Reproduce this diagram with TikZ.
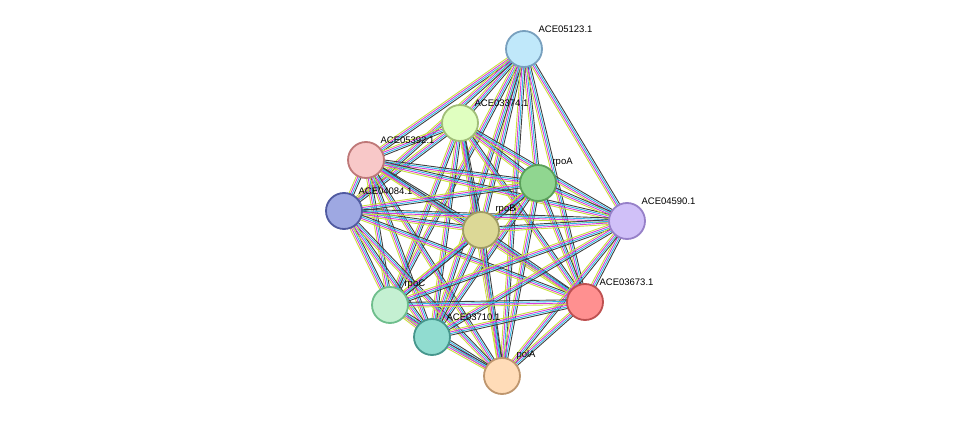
\documentclass[tikz,border=0pt]{standalone}
\usepackage{fontspec}
\setmainfont{Liberation Sans}
\usetikzlibrary{calc, backgrounds}

\definecolor{eYel}{HTML}{C8E03C}
\definecolor{eMag}{HTML}{D83CD8}
\definecolor{eCya}{HTML}{30B8E8}
\definecolor{eBlk}{HTML}{404040}

\begin{document}
\begin{tikzpicture}[
    x=1pt, y=-1pt,
    prot/.style={circle, draw, line width=1.8pt, minimum size=36pt, inner sep=0pt}, % protein node
    lbl/.style={font=\fontsize{9.5}{10}\selectfont, inner sep=1pt, yshift=2pt}, % node label
    edge/.style={line width=0.9pt}
]
\useasboundingbox (0,0) rectangle (975,422);

% proteins
\node (ace05123) [prot, fill={rgb,255:red,192;green,232;blue,250}, draw={rgb,255:red,120;green,160;blue,190}, label={[lbl]north east:ACE05123.1}] at (524,49) {};
\node (ace03374) [prot, fill={rgb,255:red,224;green,255;blue,192}, draw={rgb,255:red,160;green,190;blue,120}, label={[lbl]north east:ACE03374.1}] at (460,123) {};
\node (ace05392) [prot, fill={rgb,255:red,248;green,200;blue,200}, draw={rgb,255:red,190;green,120;blue,120}, label={[lbl]north east:ACE05392.1}] at (366,160) {};
\node (rpoA) [prot, fill={rgb,255:red,144;green,214;blue,144}, draw={rgb,255:red,90;green,160;blue,90}, label={[lbl]north east:rpoA}] at (538,183) {};
\node (ace04084) [prot, fill={rgb,255:red,158;green,168;blue,226}, draw={rgb,255:red,80;green,90;blue,160}, label={[lbl]north east:ACE04084.1}] at (344,211) {};
\node (rpoB) [prot, fill={rgb,255:red,220;green,216;blue,150}, draw={rgb,255:red,160;green,156;blue,100}, label={[lbl]north east:rpoB}] at (481,230) {};
\node (ace04590) [prot, fill={rgb,255:red,208;green,192;blue,248}, draw={rgb,255:red,150;green,128;blue,200}, label={[lbl]north east:ACE04590.1}] at (627,221) {};
\node (rpoC) [prot, fill={rgb,255:red,196;green,240;blue,210}, draw={rgb,255:red,110;green,190;blue,140}, label={[lbl]north east:rpoC}] at (390,305) {};
\node (ace03673) [prot, fill={rgb,255:red,255;green,144;blue,144}, draw={rgb,255:red,190;green,80;blue,80}, label={[lbl]north east:ACE03673.1}] at (585,302) {};
\node (ace03710) [prot, fill={rgb,255:red,144;green,220;blue,208}, draw={rgb,255:red,70;green,150;blue,140}, label={[lbl]north east:ACE03710.1}] at (432,337) {};
\node (polA) [prot, fill={rgb,255:red,255;green,220;blue,184}, draw={rgb,255:red,190;green,150;blue,110}, label={[lbl]north east:polA}] at (502,376) {};

% interactions
\begin{scope}[on background layer]
\foreach \a/\b in {ace05123/ace03374, ace05123/ace05392, ace05123/rpoA, ace05123/ace04084,
    ace05123/rpoB, ace05123/ace04590, ace05123/rpoC, ace05123/ace03673, ace05123/ace03710, ace05123/polA,
    ace03374/ace05392, ace03374/rpoA, ace03374/ace04084, ace03374/rpoB, ace03374/ace04590,
    ace03374/rpoC, ace03374/ace03673, ace03374/ace03710, ace03374/polA,
    ace05392/rpoA, ace05392/ace04084, ace05392/rpoB, ace05392/ace04590, ace05392/rpoC,
    ace05392/ace03673, ace05392/ace03710, ace05392/polA,
    rpoA/ace04084, rpoA/rpoB, rpoA/ace04590, rpoA/rpoC, rpoA/ace03673, rpoA/ace03710, rpoA/polA,
    ace04084/rpoB, ace04084/ace04590, ace04084/rpoC, ace04084/ace03673, ace04084/ace03710, ace04084/polA,
    rpoB/ace04590, rpoB/rpoC, rpoB/ace03673, rpoB/ace03710, rpoB/polA,
    ace04590/rpoC, ace04590/ace03673, ace04590/ace03710, ace04590/polA,
    rpoC/ace03673, rpoC/ace03710, rpoC/polA,
    ace03673/ace03710, ace03673/polA, ace03710/polA}
  \foreach \c/\k in {eYel/-2.4pt, eMag/-0.8pt, eCya/0.8pt, eBlk/2.4pt}
    \draw[edge, \c] ($(\a)!\k!90:(\b)$) -- ($(\b)!\k!-90:(\a)$);
\end{scope}

\end{tikzpicture}
\end{document}
